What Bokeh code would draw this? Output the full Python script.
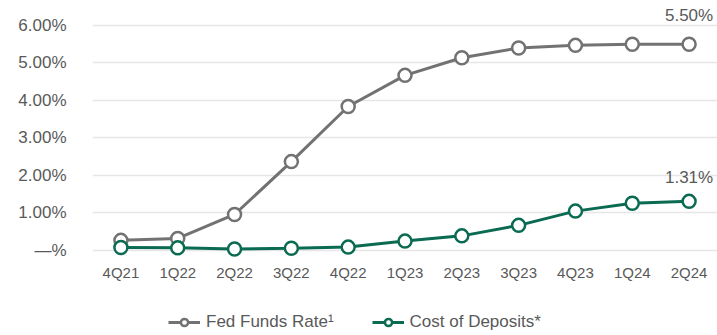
from bokeh.plotting import figure
from bokeh.models import FixedTicker, Legend, LegendItem, ColumnDataSource
from bokeh.layouts import column
from bokeh.embed import file_html
from bokeh.resources import INLINE
from bokeh.core.properties import value

quarters = ["4Q21", "1Q22", "2Q22", "3Q22", "4Q22", "1Q23", "2Q23", "3Q23", "4Q23", "1Q24", "2Q24"]
fed_funds = [0.27, 0.32, 0.96, 2.37, 3.84, 4.67, 5.14, 5.40, 5.47, 5.50, 5.50]
cost_deposits = [0.08, 0.07, 0.04, 0.06, 0.09, 0.25, 0.39, 0.67, 1.05, 1.26, 1.31]
y_ticks = [0, 1, 2, 3, 4, 5, 6]
y_tick_labels = ["\u2014%", "1.00%", "2.00%", "3.00%", "4.00%", "5.00%", "6.00%"]
series_names = ["Fed Funds Rate\u00b9", "Cost of Deposits*"]

GRAY = "#727272"
GREEN = "#0b6b52"
FONT = "Liberation Sans"

xs = list(range(len(quarters)))

p = figure(width=717, height=295, output_backend="svg", toolbar_location=None,
           x_range=(-0.5, len(quarters) - 0.5), y_range=(-0.267, 6.533),
           min_border_left=92, min_border_right=0, min_border_top=5, min_border_bottom=35)
p.outline_line_color = None
p.xgrid.grid_line_color = None
p.ygrid.grid_line_color = "#e6e6e6"
p.ygrid.grid_line_width = 1.5

p.yaxis.ticker = FixedTicker(ticks=y_ticks)
p.yaxis.major_label_overrides = {t: l for t, l in zip(y_ticks, y_tick_labels)}
p.xaxis.ticker = FixedTicker(ticks=xs)
p.xaxis.major_label_overrides = {i: q for i, q in enumerate(quarters)}
for ax in (p.xaxis[0], p.yaxis[0]):
    ax.axis_line_color = None
    ax.major_tick_line_color = None
    ax.minor_tick_line_color = None
    ax.major_tick_in = 0
    ax.major_tick_out = 0
    ax.major_label_text_font = FONT
    ax.major_label_text_color = "#595959"
p.yaxis.major_label_text_font_size = "17px"
p.xaxis.major_label_text_font_size = "15px"
p.yaxis.major_label_standoff = 26
p.xaxis.major_label_standoff = 3

src = ColumnDataSource(dict(x=xs, fed=fed_funds, dep=cost_deposits))

p.line("x", "fed", source=src, line_color=GRAY, line_width=3)
p.scatter("x", "fed", source=src, size=13, fill_color="white", line_color=GRAY, line_width=2.5)
p.line("x", "dep", source=src, line_color=GREEN, line_width=3)
p.scatter("x", "dep", source=src, size=13, fill_color="white", line_color=GREEN, line_width=2.5)

last = len(quarters) - 1
p.text(x=[last], y=[fed_funds[last]], text=["%.2f%%" % fed_funds[last]], y_offset=-19,
       text_align="center", text_baseline="bottom", text_font=value(FONT),
       text_font_size="17px", text_color="#595959")
p.text(x=[last], y=[cost_deposits[last]], text=["%.2f%%" % cost_deposits[last]], y_offset=-14,
       text_align="center", text_baseline="bottom", text_font=value(FONT),
       text_font_size="17px", text_color="#595959")

# legend strip (its renderers hold a point outside the visible range)
lg = figure(width=717, height=40, output_backend="svg", toolbar_location=None,
            x_range=(0, 1), y_range=(0, 1), min_border=0)
lg.axis.visible = False
lg.grid.visible = False
lg.outline_line_color = None
items = []
for name, col in zip(series_names, [GRAY, GREEN]):
    r1 = lg.line(x=[5, 6], y=[5, 5], line_color=col, line_width=3)
    r2 = lg.scatter(x=[5], y=[5], size=12, fill_color="white", line_color=col, line_width=2.5)
    items.append(LegendItem(label=name, renderers=[r1, r2]))
legend = Legend(items=items, orientation="horizontal", location=(76, 3),
                label_text_font=FONT, label_text_font_size="17px", label_text_color="#595959",
                border_line_color=None, background_fill_alpha=0,
                glyph_width=32, glyph_height=18, spacing=38, margin=0, padding=4,
                label_standoff=6)
lg.add_layout(legend, "center")

open("out.html", "w").write(file_html(column(p, lg, spacing=0), INLINE))
